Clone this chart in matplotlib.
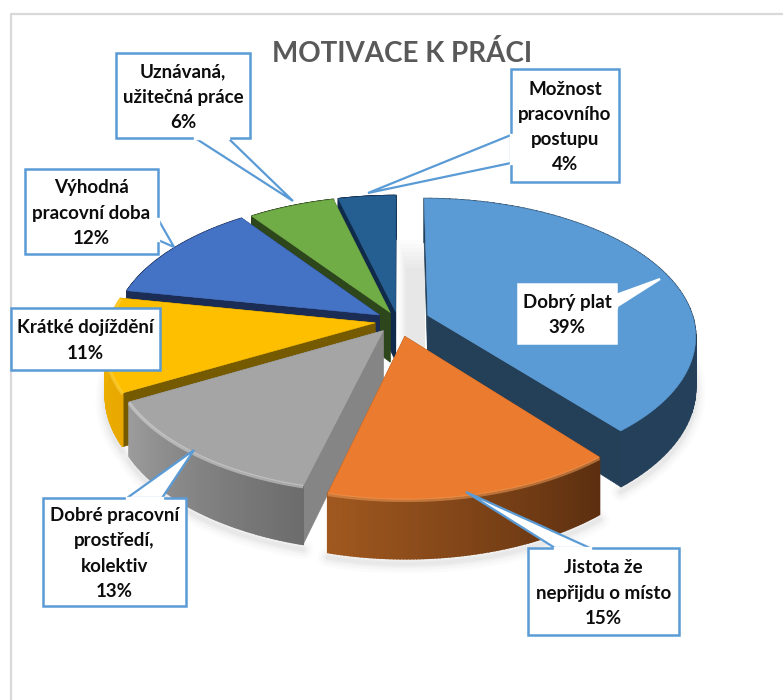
import numpy as np
import matplotlib
matplotlib.use('Agg')
import matplotlib.pyplot as plt
from matplotlib.patches import Polygon, Rectangle

plt.rcParams['font.family'] = ['Lato', 'DejaVu Sans']

labels = ['Dobrý plat', 'Jistota že\nnepřijdu o místo', 'Dobré pracovní\nprostředí,\nkolektiv',
          'Krátké dojíždění', 'Výhodná\npracovní doba', 'Uznávaná,\nužitečná práce',
          'Možnost\npracovního\npostupu']
values = [39, 15, 13, 11, 12, 6, 4]

colors = ['#5B9BD5', '#EA7B2F', '#A5A5A5', '#FDBF00', '#4472C4', '#70AD47', '#255E91']
face_colors = ['#243F58', '#8A4A1C', '#858585', '#755A00', '#1B2C55', '#2E461C', '#0F2A4A']
rim_start = ['#24405A', '#5C2F10', '#6C6C6C', '#E8A800', '#1B2C55', '#2E461C', '#0F2A4A']
rim_end = ['#24405A', '#A0581F', '#9C9C9C', '#F0B400', '#1B2C55', '#2E461C', '#0F2A4A']
bevel = [None, '#F29A55', '#DADADA', '#FFD54A', None, None, None]
explode = [0.12, 0.115, 0.09, 0.087, 0.083, 0.07, 0.07]

# pie geometry in pixels
cx, cy = 398, 321
rx, ry = 266, 135
persp = 0.142
depth = 50

# box x0, x1, y0, y1 and pointer polygon for each label
boxes = [(518, 616, 284, 343), (528, 679, 548, 635), (43, 186, 498, 606), (11, 160, 308, 370),
         (25, 158, 169, 254), (116, 250, 53, 138), (511, 619, 69, 182)]
pointers = [[(616, 295), (660, 279), (616, 307)], [(555, 548), (466, 492), (590, 548)],
            [(127, 498), (194, 450), (162, 498)], None,
            [(158, 219), (174, 247), (158, 240)], [(195, 138), (293, 201), (228, 138)],
            [(511, 135), (368, 193), (511, 163)]]
box_edge = [None, '#5B9BD5', '#5B9BD5', '#5B9BD5', '#5B9BD5', '#5B9BD5', '#5B9BD5']


def project(u, v, lift=0):
    s = 1 / (1 - persp * v)
    return cx + rx * u * s, cy + ry * v * s + lift * s


def rim_xy(t, off, lift=0):
    return project(off[0] + np.sin(t), off[1] - np.cos(t), lift)


def hex_mix(a, b, f):
    ca, cb = matplotlib.colors.to_rgb(a), matplotlib.colors.to_rgb(b)
    return tuple((1 - f) * p + f * q for p, q in zip(ca, cb))


fig = plt.figure(figsize=(7.83, 7.0), dpi=100)
ax = fig.add_axes([0, 0, 1, 1])
ax.set_xlim(0, 783)
ax.set_ylim(700, 0)
ax.axis('off')

# chart frame
ax.plot([11, 11, 783], [700, 14, 14], color='#D9D9D9', lw=1.6, zorder=0)

fracs = np.array(values) / sum(values)
ends = np.cumsum(fracs) * 2 * np.pi
starts = ends - fracs * 2 * np.pi
mids = (starts + ends) / 2
offs = [(e * np.sin(m), -e * np.cos(m)) for e, m in zip(explode, mids)]

# soft shadow under the front of the pie
for i in range(len(values)):
    t = np.linspace(starts[i], ends[i], 60)
    t = t[-np.cos(t) > -0.1]
    if len(t) < 2:
        continue
    x, y = rim_xy(t, offs[i], depth)
    for w, a in zip([14, 10, 6, 3], [0.03, 0.04, 0.05, 0.06]):
        ax.plot(x, y + 5, color='#808080', lw=w, alpha=a, solid_capstyle='round', zorder=1)

# shadow in the gap next to the big slice
for k in range(8):
    ax.add_patch(Rectangle((399 + k, 240 + 4 * k), 26 - k, 110, fc='#808080', ec='none', alpha=0.025, zorder=1))

# back to front
z = 2
for i in np.argsort(-np.cos(mids)):
    t = np.linspace(starts[i], ends[i], 90)
    off = offs[i]
    ax0, ay0 = project(off[0], off[1])
    ax1, ay1 = project(off[0], off[1], depth)
    for end in (t[0], t[-1]):
        x0, y0 = rim_xy(end, off)
        x1, y1 = rim_xy(end, off, depth)
        ax.add_patch(Polygon([(ax0, ay0), (x0, y0), (x1, y1), (ax1, ay1)], fc=face_colors[i],
                             ec=face_colors[i], lw=0.5, zorder=z))
    # rim, shaded along the arc
    xt, yt = rim_xy(t, off)
    xb, yb = rim_xy(t, off, depth)
    for k in range(len(t) - 1):
        c = hex_mix(rim_start[i], rim_end[i], k / (len(t) - 2))
        ax.add_patch(Polygon([(xt[k], yt[k]), (xt[k + 1], yt[k + 1]), (xb[k + 1], yb[k + 1]), (xb[k], yb[k])],
                             fc=c, ec=c, lw=1.2, zorder=z))
    top = [(ax0, ay0)] + list(zip(xt, yt))
    ax.add_patch(Polygon(top, fc=colors[i], ec=colors[i], lw=0.4, zorder=z))
    if bevel[i]:
        ax.plot(xt, yt + 1, color=bevel[i], lw=2.5, alpha=0.55, zorder=z, solid_capstyle='butt')
    z += 1

# callouts
for i in range(len(values)):
    x0, x1, y0, y1 = boxes[i]
    ec = box_edge[i]
    if pointers[i]:
        ax.add_patch(Polygon(pointers[i], closed=True, fc='white', ec=ec if ec else 'white', lw=1.6, zorder=20))
    ax.add_patch(Polygon([(x0, y0), (x1, y0), (x1, y1), (x0, y1)], fc='white', ec=ec if ec else 'white',
                         lw=1.8, zorder=21))
    if pointers[i]:
        p = np.array(pointers[i])
        ax.plot([p[0][0], p[2][0]], [p[0][1], p[2][1]], color='white', lw=2.4, zorder=22)
    ax.text((x0 + x1) / 2, (y0 + y1) / 2 + 1.5, f'{labels[i]}\n{values[i]}%', ha='center', va='center',
            fontsize=13.5, fontweight='bold', color='#0D0D0D', linespacing=1.58, zorder=23)

ax.text(402.5, 53, 'MOTIVACE K PRÁCI', ha='center', va='center', fontsize=20, fontweight='bold',
        color='#595959', zorder=23)

fig.savefig('out.png', dpi=100)
